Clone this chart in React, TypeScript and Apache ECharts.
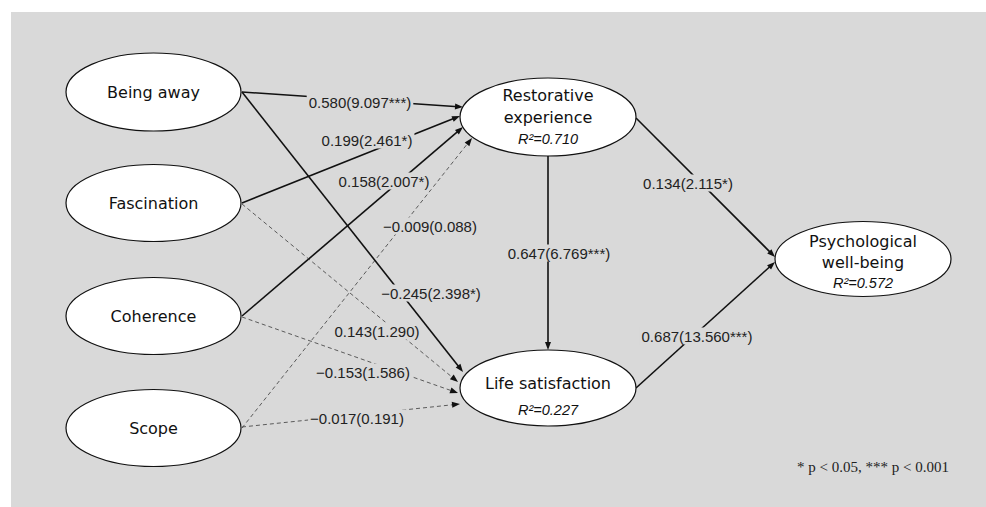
import React, { useEffect, useRef } from "react";
import * as echarts from "echarts";

// ---- data ----
const nodeNames = [
  "Being away",
  "Fascination",
  "Coherence",
  "Scope",
  "Restorative\nexperience",
  "Life satisfaction",
  "Psychological\nwell-being",
];
const rSquared: (number | null)[] = [null, null, null, null, 0.71, 0.227, 0.572];

const pathFrom = [0, 1, 2, 3, 0, 1, 2, 3, 4, 4, 5];
const pathTo = [4, 4, 4, 4, 5, 5, 5, 5, 5, 6, 6];
const coefficients = ["0.580", "0.199", "0.158", "−0.009", "−0.245", "0.143", "−0.153", "−0.017", "0.647", "0.134", "0.687"];
const tValues = ["9.097", "2.461", "2.007", "0.088", "2.398", "1.290", "1.586", "0.191", "6.769", "2.115", "13.560"];
const significance = ["***", "*", "*", "", "*", "", "", "", "***", "*", "***"];
const footnote = "* p < 0.05, *** p < 0.001";

// ---- layout (positions in page pixels) ----
const nodeCenter = [[153.5, 92], [153.5, 203], [153.5, 316], [153.5, 428], [548, 117], [548, 388], [863, 259]];
const nodeRadius = [[87.5, 39], [87.5, 38.5], [87.5, 38.5], [87.5, 38.5], [88, 39], [88, 38], [88, 37.5]];
const nameOffset = [0, 0, 0, 0, -11, -5, -7];
const nameLineHeight = [22, 22, 22, 22, 22, 22, 21];
const r2Offset = [0, 0, 0, 0, 22, 22, 24];
const pathStart = [[242, 92], [242, 203], [242, 316], [242, 428], [242, 92], [242, 204], [242, 317], [242, 427], [548, 156], [636, 118], [636, 388]];
const pathEnd = [[463, 107], [460, 116], [463, 127], [472, 138], [463, 372], [458, 382], [458, 393], [460, 404], [548, 350], [775, 257], [775, 262]];
const labelPos = [[360, 102], [367, 140], [384, 181], [430, 226], [431, 293], [377, 331], [363, 372], [357, 418], [559, 253], [688, 183], [697, 336]];

const BG = "#d9d9d9";

export default function App() {
  const ref = useRef<HTMLDivElement>(null);
  useEffect(() => {
    if (!ref.current) return;
    const chart = echarts.init(ref.current, undefined, { renderer: "svg" });

    const edgeData = pathFrom.map((f, i) => [pathStart[i][0], pathStart[i][1], pathEnd[i][0], pathEnd[i][1], i, f, pathTo[i]]);
    const labelData = pathFrom.map((_, i) => [labelPos[i][0], labelPos[i][1], i]);
    const nodeData = nodeNames.map((_, i) => [nodeCenter[i][0], nodeCenter[i][1], i]);

    const option: any = {
      animation: false,
      backgroundColor: "#ffffff",
      grid: { left: 0, right: 0, top: 0, bottom: 0 },
      xAxis: { type: "value", min: 0, max: 986, show: false },
      yAxis: { type: "value", min: 0, max: 507, inverse: true, show: false },
      series: [
        {
          type: "custom",
          silent: true,
          clip: false,
          data: [[11, 12, 986, 507]],
          renderItem: (params: any, api: any) => {
            const p1 = api.coord([api.value(0), api.value(1)]);
            const p2 = api.coord([api.value(2), api.value(3)]);
            return {
              type: "rect",
              shape: { x: p1[0], y: p1[1], width: p2[0] - p1[0], height: p2[1] - p1[1] },
              style: { fill: BG },
            };
          },
        },
        {
          type: "custom",
          silent: true,
          clip: false,
          data: edgeData,
          renderItem: (params: any, api: any) => {
            const i = params.dataIndex;
            const a = api.coord([api.value(0), api.value(1)]);
            const b = api.coord([api.value(2), api.value(3)]);
            const sig = significance[i] !== "";
            const dx = b[0] - a[0];
            const dy = b[1] - a[1];
            const len = Math.hypot(dx, dy);
            const ux = dx / len;
            const uy = dy / len;
            const nx = -uy;
            const ny = ux;
            const L = 8;
            const W = 3;
            const color = sig ? "#111111" : "#3a3a3a";
            return {
              type: "group",
              children: [
                {
                  type: "line",
                  shape: { x1: a[0], y1: a[1], x2: b[0] - ux * L * 0.6, y2: b[1] - uy * L * 0.6 },
                  style: {
                    stroke: color,
                    lineWidth: sig ? 1.6 : 0.8,
                    lineDash: sig ? null : [4, 3],
                  },
                },
                {
                  type: "polygon",
                  shape: {
                    points: [
                      [b[0], b[1]],
                      [b[0] - ux * L + nx * W, b[1] - uy * L + ny * W],
                      [b[0] - ux * L - nx * W, b[1] - uy * L - ny * W],
                    ],
                  },
                  style: { fill: "#111111" },
                },
              ],
            };
          },
        },
        {
          type: "custom",
          silent: true,
          clip: false,
          data: labelData,
          renderItem: (params: any, api: any) => {
            const i = params.dataIndex;
            const p = api.coord([api.value(0), api.value(1)]);
            return {
              type: "text",
              style: {
                text: `${coefficients[i]}(${tValues[i]}${significance[i]})`,
                x: p[0],
                y: p[1],
                align: "center",
                verticalAlign: "middle",
                font: '15px "Liberation Sans", Arial, sans-serif',
                fill: "#222222",
                backgroundColor: BG,
                padding: [1, 2],
              },
            };
          },
        },
        {
          type: "custom",
          silent: true,
          clip: false,
          data: nodeData,
          renderItem: (params: any, api: any) => {
            const i = params.dataIndex;
            const c = api.coord([api.value(0), api.value(1)]);
            const children: any[] = [
              {
                type: "ellipse",
                shape: { cx: c[0], cy: c[1], rx: nodeRadius[i][0], ry: nodeRadius[i][1] },
                style: { fill: "#ffffff", stroke: "#111111", lineWidth: 1.2 },
              },
              {
                type: "text",
                style: {
                  text: nodeNames[i],
                  x: c[0],
                  y: c[1] + nameOffset[i],
                  align: "center",
                  verticalAlign: "middle",
                  lineHeight: nameLineHeight[i],
                  font: '16px "DejaVu Sans", sans-serif',
                  fill: "#111111",
                },
              },
            ];
            const r2 = rSquared[i];
            if (r2 !== null) {
              children.push({
                type: "text",
                style: {
                  text: `R²=${r2.toFixed(3)}`,
                  x: c[0],
                  y: c[1] + r2Offset[i],
                  align: "center",
                  verticalAlign: "middle",
                  font: 'italic 14.5px "Liberation Sans", Arial, sans-serif',
                  fill: "#111111",
                },
              });
            }
            return { type: "group", children };
          },
        },
      ],
      graphic: [
        {
          type: "text",
          left: 797,
          top: 459,
          z: 100,
          style: {
            text: footnote,
            font: '15px "Liberation Serif", "Times New Roman", serif',
            fill: "#222222",
          },
        },
      ],
    };
    chart.setOption(option);
    return () => chart.dispose();
  }, []);
  return <div ref={ref} style={{ position: "absolute", left: 0, top: 0, width: 986, height: 507 }} />;
}
